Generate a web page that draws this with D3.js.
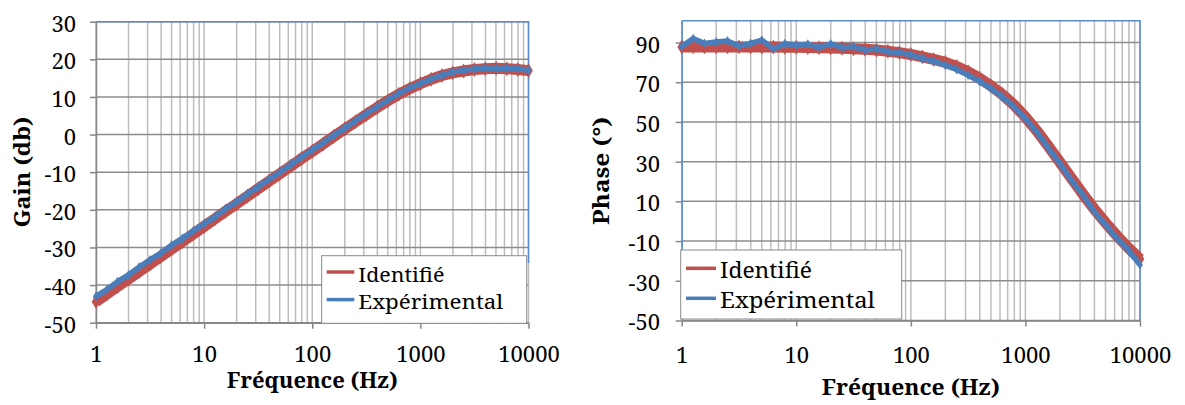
<!DOCTYPE html>
<html><head><meta charset="utf-8">
<script src="https://cdn.jsdelivr.net/npm/d3@7"></script>
<style>body{margin:0;background:#fff}svg{display:block}</style>
</head><body>
<svg id="c" width="1185" height="405"></svg>
<script>
// ---- data ----
const freq = [1,1.26,1.58,2,2.51,3.16,3.98,5.01,6.31,7.94,
  10,12.6,15.8,20,25.1,31.6,39.8,50.1,63.1,79.4,
  100,126,158,200,251,316,398,501,631,794,
  1000,1259,1585,1995,2512,3162,3981,5012,6310,7943,10000];
const gainIdent = [-44.4,-42.4,-40.4,-38.4,-36.4,-34.4,-32.4,-30.4,-28.4,-26.4,
  -24.4,-22.4,-20.4,-18.4,-16.4,-14.4,-12.4,-10.4,-8.4,-6.4,
  -4.5,-2.5,-0.5,1.5,3.4,5.3,7.2,9.0,10.7,12.2,
  13.5,14.7,15.7,16.4,16.9,17.3,17.5,17.6,17.5,17.3,17.0];
const gainExp = [-43.0,-41.2,-39.1,-37.3,-35.2,-33.3,-31.5,-29.4,-27.6,-25.6,
  -23.7,-21.8,-19.7,-17.9,-15.8,-13.9,-11.9,-10.0,-8.0,-6.0,
  -4.1,-2.2,-0.2,1.7,3.7,5.6,7.4,9.2,10.9,12.4,
  13.6,14.8,15.8,16.6,17.1,17.4,17.7,17.6,17.7,17.5,17.1];
const phaseIdent = [87.8,87.8,87.8,87.8,87.8,87.8,87.7,87.7,87.7,87.6,
  87.6,87.5,87.4,87.3,87.1,86.9,86.6,86.2,85.6,84.9,
  84.0,82.8,81.5,80.0,78.0,75.3,72.0,68.2,63.8,58.6,
  52.5,45.5,37.8,29.8,21.8,13.8,6.2,-0.8,-7.4,-13.5,-19.0];
const phaseExp = [88.0,92.0,89.5,90.3,90.8,88.2,89.6,91.2,86.8,89.4,
  88.6,89.2,87.6,89.3,87.4,87.8,86.3,86.8,85.4,85.0,
  83.8,82.0,80.6,78.6,76.4,73.6,70.4,66.8,62.6,57.6,
  51.6,45.0,36.8,29.2,20.6,13.4,4.8,-1.8,-8.8,-14.6,-22.0];
const gainTicks = [-50,-40,-30,-20,-10,0,10,20,30];
const phaseTicks = [-50,-30,-10,10,30,50,70,90];
const freqTicks = [1,10,100,1000,10000];
const seriesNames = ["Identifié","Expérimental"];
const xTitle = "Fréquence (Hz)";
const yTitles = ["Gain (db)","Phase (°)"];

// ---- drawing ----
const svg = d3.select("#c");
const RED = "#C0504D", BLUE = "#4A7EBB", BORDER = "#5B8BC9";
const FONT = "'Noto Serif', 'DejaVu Serif', serif";

function drawPanel(o){
  const x = d3.scaleLog().domain([1,10000]).range([o.left,o.right]);
  const y = d3.scaleLinear().domain(o.yDomain).range([o.bottom,o.top]);
  const g = svg.append("g");

  // vertical grid (1..9 per decade)
  g.append("g").selectAll("line").data(x.ticks()).join("line")
    .attr("x1",d=>x(d)).attr("x2",d=>x(d)).attr("y1",o.top).attr("y2",o.bottom)
    .attr("stroke","#BDBDBD").attr("stroke-width",1.5);
  // horizontal grid
  g.append("g").selectAll("line").data(o.yTicks).join("line")
    .attr("x1",o.left).attr("x2",o.right).attr("y1",d=>y(d)).attr("y2",d=>y(d))
    .attr("stroke","#8C8C8C").attr("stroke-width",1.5);

  // plot area border (blue) top & right
  g.append("line").attr("x1",o.left).attr("x2",o.right+0.75).attr("y1",o.top).attr("y2",o.top)
    .attr("stroke",BORDER).attr("stroke-width",1.5);
  g.append("line").attr("x1",o.right).attr("x2",o.right).attr("y1",o.top).attr("y2",o.rightBorderEnd)
    .attr("stroke",BORDER).attr("stroke-width",1.5);

  // y axis
  const ya = d3.axisLeft(y).tickValues(o.yTicks).tickSize(6).tickSizeOuter(0)
    .tickPadding(o.yPad).tickFormat(d=>String(d));
  const yg = g.append("g").attr("transform",`translate(${o.left},0)`).call(ya);
  yg.attr("font-family",FONT);
  yg.select(".domain").attr("stroke",o.yAxisColor).attr("stroke-width",1.5);
  yg.selectAll(".tick line").attr("stroke","#868686").attr("stroke-width",1.5);
  yg.selectAll(".tick text").attr("font-family",FONT).attr("font-size",22)
    .attr("fill","#000").attr("dy","0.43em");

  // x axis
  const xa = d3.axisBottom(x).tickValues(freqTicks).tickSize(6).tickSizeOuter(0)
    .tickFormat(d=>String(d));
  const xg = g.append("g").attr("transform",`translate(0,${o.bottom})`).call(xa);
  xg.attr("font-family",FONT);
  xg.select(".domain").attr("stroke","#868686").attr("stroke-width",1.5);
  xg.selectAll(".tick line").attr("stroke","#868686").attr("stroke-width",1.5);
  xg.selectAll(".tick text").attr("font-family",FONT).attr("font-size",22)
    .attr("fill","#000").attr("y",o.xLabelBase-o.bottom).attr("dy",0);

  // series
  const line = d3.line().x((d,i)=>x(freq[i])).y(d=>y(d));
  g.append("path").datum(o.ident).attr("d",line).attr("fill","none")
    .attr("stroke",RED).attr("stroke-width",11).attr("stroke-linejoin","round");
  g.append("g").selectAll("path").data(o.ident).join("path")
    .attr("transform",(d,i)=>`translate(${x(freq[i])},${y(d)})`)
    .attr("d",d3.symbol(d3.symbolDiamond,64)).attr("fill",RED);
  g.append("path").datum(o.exp).attr("d",line).attr("fill","none")
    .attr("stroke",BLUE).attr("stroke-width",5.5).attr("stroke-linejoin","round");
  g.append("g").selectAll("path").data(o.exp).join("path")
    .attr("transform",(d,i)=>`translate(${x(freq[i])},${y(d)})`)
    .attr("d",d3.symbol(d3.symbolDiamond,28)).attr("fill",BLUE);

  // titles
  g.append("text").attr("x",(o.left+o.right)/2).attr("y",o.xTitleBase)
    .attr("text-anchor","middle").attr("font-family",FONT).attr("font-weight","bold")
    .attr("font-size",21).attr("textLength",o.xTitleLen).attr("lengthAdjust","spacingAndGlyphs")
    .text(xTitle);
  g.append("text").attr("transform",`translate(${o.yTitleX},${o.yTitleY}) rotate(-90)`)
    .attr("text-anchor","middle").attr("font-family",FONT).attr("font-weight","bold")
    .attr("font-size",21).attr("textLength",o.yTitleLen).attr("lengthAdjust","spacingAndGlyphs")
    .text(o.yTitle);

  // legend
  const L = o.legend;
  const lg = g.append("g");
  lg.append("rect").attr("x",L.x).attr("y",L.y).attr("width",L.w).attr("height",L.h)
    .attr("fill","#fff").attr("stroke","#8A8A8A").attr("stroke-width",1);
  [RED,BLUE].forEach((c,i)=>{
    const ly = L.rows[i];
    lg.append("line").attr("x1",L.sx0).attr("x2",L.sx1).attr("y1",ly).attr("y2",ly)
      .attr("stroke",c).attr("stroke-width",3.5);
    lg.append("text").attr("x",L.tx).attr("y",ly+L.tdy).attr("font-family",FONT)
      .attr("font-size",L.fs).attr("fill","#000")
      .attr("textLength",L.tl[i]).attr("lengthAdjust","spacingAndGlyphs")
      .text(seriesNames[i]);
  });
}

drawPanel({
  left:96, right:528.5, top:21.7, bottom:322.7, yDomain:[-50,30], yTicks:gainTicks,
  ident:gainIdent, exp:gainExp, yPad:14, yAxisColor:"#868686", rightBorderEnd:263,
  xLabelBase:362, xTitleBase:388, xTitleLen:171,
  yTitle:yTitles[0], yTitleX:30, yTitleY:172, yTitleLen:111,
  legend:{x:321.7,y:255.7,w:205,h:67.6,sx0:326.7,sx1:354.3,tx:358.3,rows:[272,299.6],tdy:9.5,fs:20,tl:[86,145]}
});
drawPanel({
  left:681.7, right:1140, top:20.7, bottom:320.5, yDomain:[-50,101], yTicks:phaseTicks,
  ident:phaseIdent, exp:phaseExp, yPad:15.7, yAxisColor:BORDER, rightBorderEnd:320.5,
  xLabelBase:363, xTitleBase:395, xTitleLen:178,
  yTitle:yTitles[1], yTitleX:609, yTitleY:171, yTitleLen:108,
  legend:{x:680.7,y:250,w:221,h:69,sx0:686,sx1:716,tx:720,rows:[268.3,298.3],tdy:10,fs:22,tl:[92,155]}
});
</script>
</body></html>
